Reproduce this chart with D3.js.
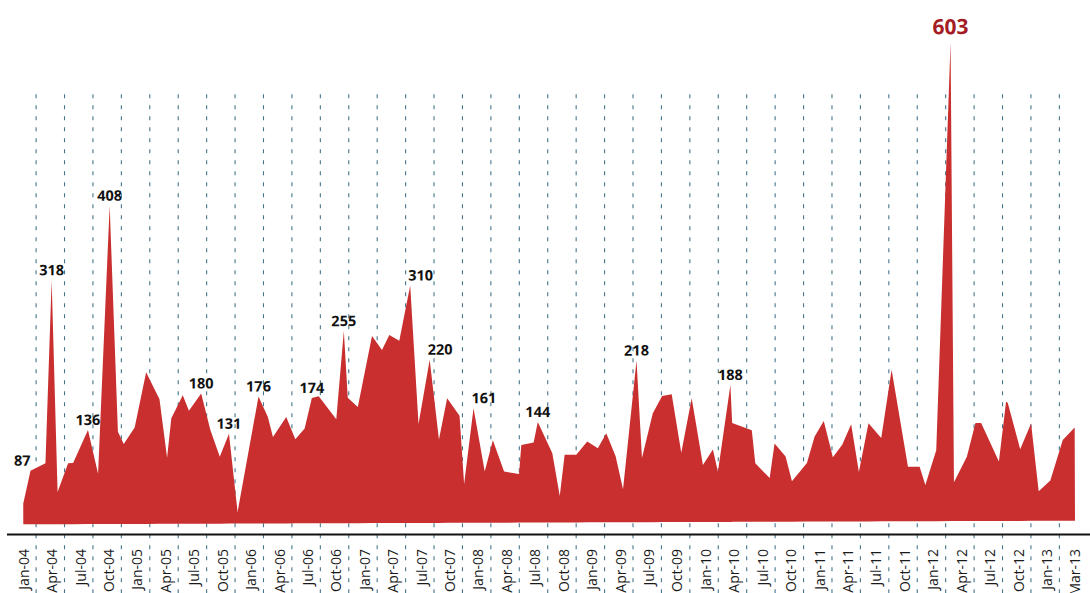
<!DOCTYPE html>
<html>
<head>
<meta charset="utf-8">
<script src="https://cdn.jsdelivr.net/npm/d3@7"></script>
<style>
  html, body { margin: 0; padding: 0; background: #ffffff; }
  svg { display: block; }
</style>
</head>
<body>
<svg id="chart" width="1090" height="593"></svg>
<script>
// ---- data (months since Jan-04, value) ----
const months = [0, 0.78, 2.36, 3.08, 3.63, 4.75, 5.28, 6.86, 7.91, 9.23,
  10.02, 10.63, 11.79, 13.02, 14.42, 15.2, 15.66, 16.88, 17.52, 18.82,
  19.77, 20.76, 21.74, 22.62, 24.87, 25.85, 26.38, 27.79, 28.74, 29.73,
  30.5, 31.23, 33.07, 33.9, 34.29, 35.35, 36.87, 37.92, 38.7, 39.75,
  40.92, 41.75, 42.95, 43.9, 44.78, 46.08, 46.54, 47.56, 48.72, 49.59,
  50.76, 52.34, 52.59, 53.89, 54.34, 55.86, 56.63, 57.16, 58.39, 59.55,
  60.67, 61.56, 62.54, 63.31, 64.78, 65.32, 66.48, 67.47, 68.48, 69.47,
  70.59, 71.75, 72.81, 73.33, 74.68, 74.85, 76.92, 77.28, 78.79, 79.32,
  80.48, 81.14, 82.73, 83.54, 84.52, 85.47, 86.46, 87.41, 88.21, 89.24,
  90.58, 91.7, 93.39, 94.62, 95.22, 96.38, 98.04, 98.24, 99.61, 100.53,
  101.13, 102.99, 103.77, 103.95, 105.24, 106.4, 107.18, 108.41, 109.74, 111];
const values = [47, 87, 96, 318, 61, 96, 96, 136, 83, 408,
  134, 119, 139, 206, 173, 102, 150, 178, 159, 180,
  136, 103, 131, 36, 176, 151, 127, 151, 124, 137,
  174, 176, 148, 255, 174, 163, 249, 232, 250, 243,
  310, 142, 220, 123, 173, 152, 69, 161, 84, 122,
  84, 81, 116, 119, 144, 106, 54, 104, 104, 120,
  112, 130, 102, 62, 218, 100, 154, 175, 177, 106,
  172, 91, 110, 83, 188, 142, 133, 93, 75, 117,
  101, 71, 93, 125, 144, 100, 115, 140, 82, 141,
  123, 206, 88, 88, 66, 108, 603, 69, 100, 141,
  141, 94, 167, 165, 109, 140, 58, 71, 120, 135];
const labelIdx = [1, 3, 7, 9, 19, 22, 24, 30, 33, 40, 42, 47, 54, 64, 74, 96];
const peakIdx = 96;
const tickLabels = ["Jan-04","Apr-04","Jul-04","Oct-04","Jan-05","Apr-05","Jul-05","Oct-05",
  "Jan-06","Apr-06","Jul-06","Oct-06","Jan-07","Apr-07","Jul-07","Oct-07",
  "Jan-08","Apr-08","Jul-08","Oct-08","Jan-09","Apr-09","Jul-09","Oct-09",
  "Jan-10","Apr-10","Jul-10","Oct-10","Jan-11","Apr-11","Jul-11","Oct-11",
  "Jan-12","Apr-12","Jul-12","Oct-12","Jan-13","Mar-13"];

// ---- layout / style ----
const W = 1090, H = 593;
const left = 23.3, right = 1075, base = 524.3;
const red = "#c92f2f", darkRed = "#a51c24";
const labelAnchor = {1: "end", 40: "start", 42: "start", 47: "start"};

const svg = d3.select("#chart");
const data = months.map((m, i) => ({m: m, v: values[i], i: i}));

const x = d3.scaleLinear().domain([0, 111]).range([left, right]);
const y = d3.scaleLinear().domain([22, 603]).range([base, base - 479]);

const tickMonths = tickLabels.map((d, i) => i * 3);

// dashed separators (between tick labels)
svg.append("g").selectAll("line")
  .data(tickMonths.slice(0, -1))
  .join("line")
  .attr("x1", d => x(d + 1.35)).attr("x2", d => x(d + 1.35))
  .attr("y1", 94.3).attr("y2", H)
  .attr("stroke", "#47768c")
  .attr("stroke-width", 1.1)
  .attr("stroke-dasharray", "4,7");

// area (slightly tilted like the reference)
const g = svg.append("g")
  .attr("transform", `rotate(-0.196, ${left}, ${base})`);

const area = d3.area()
  .x(d => x(d.m))
  .y0(y(22))
  .y1(d => y(d.v))
  .curve(d3.curveLinear);

g.append("path")
  .datum(data)
  .attr("d", area)
  .attr("fill", red);

// value labels
g.selectAll("text.val")
  .data(labelIdx.map(i => data[i]))
  .join("text")
  .attr("class", "val")
  .attr("x", d => {
    const a = labelAnchor[d.i];
    return x(d.m) + (a === "start" ? -2 : 0);
  })
  .attr("y", d => y(d.v) - (d.i === peakIdx ? 8 : 5))
  .attr("text-anchor", d => labelAnchor[d.i] || "middle")
  .attr("font-family", "'Open Sans', 'Noto Sans', sans-serif")
  .attr("font-weight", 700)
  .attr("font-size", d => d.i === peakIdx ? 21 : 14.5)
  .attr("fill", d => d.i === peakIdx ? darkRed : "#111")
  .text(d => d.v);

// baseline axis rule
svg.append("line")
  .attr("x1", 7).attr("x2", W)
  .attr("y1", 534.5).attr("y2", 534.5)
  .attr("stroke", "#111")
  .attr("stroke-width", 2);

// x axis labels
const xAxis = d3.axisBottom(x)
  .tickValues(tickMonths)
  .tickFormat((d, i) => tickLabels[i])
  .tickSize(0)
  .tickPadding(0);

const ax = svg.append("g")
  .attr("transform", "translate(0, 549)")
  .call(xAxis);
ax.select(".domain").remove();
ax.selectAll("text")
  .attr("x", 0).attr("y", 0)
  .attr("dy", "0.35em")
  .attr("transform", "rotate(-90)")
  .style("text-anchor", "end")
  .attr("font-family", "'Open Sans', 'Noto Sans', sans-serif")
  .attr("font-size", 14)
  .attr("fill", "#1a1a1a");
</script>
</body>
</html>
